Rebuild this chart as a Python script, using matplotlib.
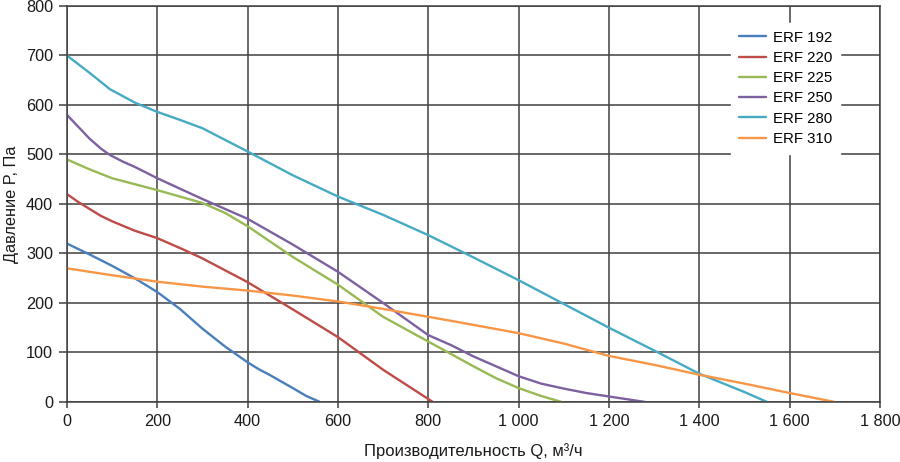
import matplotlib
matplotlib.use('Agg')
import matplotlib.pyplot as plt
from matplotlib.ticker import FuncFormatter

plt.rcParams['font.family'] = ['Liberation Sans', 'DejaVu Sans']

# ERF 192
q_192 = [0, 50, 100, 150, 200, 250, 300, 350, 400, 425, 450, 500, 530, 560]
p_192 = [320, 298, 275, 250, 222, 188, 148, 112, 80, 66, 54, 28, 12, 0]
# ERF 220
q_220 = [0, 25, 50, 75, 100, 150, 200, 260, 300, 400, 500, 600, 700, 810]
p_220 = [420, 404, 390, 376, 365, 346, 331, 307, 290, 242, 187, 131, 65, 0]
# ERF 225
q_225 = [0, 50, 100, 200, 300, 350, 400, 500, 600, 700, 800, 850, 900, 950, 1000, 1050, 1095]
p_225 = [490, 470, 452, 428, 402, 382, 355, 293, 237, 172, 122, 97, 72, 48, 28, 12, 0]
# ERF 250
q_250 = [0, 25, 50, 75, 95, 125, 150, 200, 300, 400, 500, 600, 700, 800, 850, 900, 1000, 1050,
         1100, 1150, 1200, 1280]
p_250 = [580, 556, 532, 512, 499, 485, 475, 452, 410, 370, 318, 263, 200, 135, 115, 92, 52, 37,
         27, 18, 11, 0]
# ERF 280
q_280 = [0, 50, 95, 150, 200, 250, 300, 400, 500, 600, 700, 800, 900, 1000, 1100, 1200, 1300,
         1400, 1500, 1550]
p_280 = [700, 665, 632, 605, 586, 570, 553, 506, 458, 415, 378, 337, 292, 246, 198, 150, 104,
         57, 20, 0]
# ERF 310
q_310 = [0, 100, 200, 300, 400, 500, 600, 700, 850, 1000, 1100, 1200, 1300, 1400, 1500, 1600,
         1700]
p_310 = [270, 256, 243, 233, 225, 215, 203, 188, 164, 139, 118, 93, 75, 55, 37, 18, 0]

series = [
    ('ERF 192', q_192, p_192, '#4A7EBB'),
    ('ERF 220', q_220, p_220, '#BE4B48'),
    ('ERF 225', q_225, p_225, '#98B954'),
    ('ERF 250', q_250, p_250, '#7D60A0'),
    ('ERF 280', q_280, p_280, '#46AAC5'),
    ('ERF 310', q_310, p_310, '#F79646'),
]

fig = plt.figure(figsize=(9, 4.62), dpi=100)
ax = fig.add_axes([0.0744, 0.13, 0.9033, 0.857])

for name, q, p, col in series:
    ax.plot(q, p, color=col, lw=1.7, label=name, solid_capstyle='round')

ax.set_xlim(0, 1800)
ax.set_ylim(0, 800)
ax.set_xticks(range(0, 1801, 200))
ax.set_yticks(range(0, 801, 100))
ax.xaxis.set_major_formatter(FuncFormatter(lambda v, pos: f'{int(v):,}'.replace(',', ' ')))
ax.grid(True, color='#404040', lw=1.1)
ax.set_axisbelow(True)
for s in ax.spines.values():
    s.set_color('#404040')
    s.set_linewidth(1.1)
ax.tick_params(axis='both', direction='out', width=1.1, color='#404040',
               labelsize=11.7, labelcolor='#1a1a1a')
ax.tick_params(axis='x', length=4, pad=5)
ax.tick_params(axis='y', length=6, pad=4)

ax.set_xlabel('Производительность Q, м³/ч', fontsize=12, color='#1a1a1a', labelpad=10)
ax.set_ylabel('Давление P, Па', fontsize=11.7, color='#1a1a1a', labelpad=5)

leg = ax.legend(loc='upper right', bbox_to_anchor=(0.951, 0.957), borderaxespad=0,
                frameon=True, fancybox=False, framealpha=1, edgecolor='white',
                fontsize=10.8, handlelength=1.8, labelspacing=0.42, handletextpad=0.5,
                borderpad=0.5)

fig.savefig('out.png', dpi=100)
